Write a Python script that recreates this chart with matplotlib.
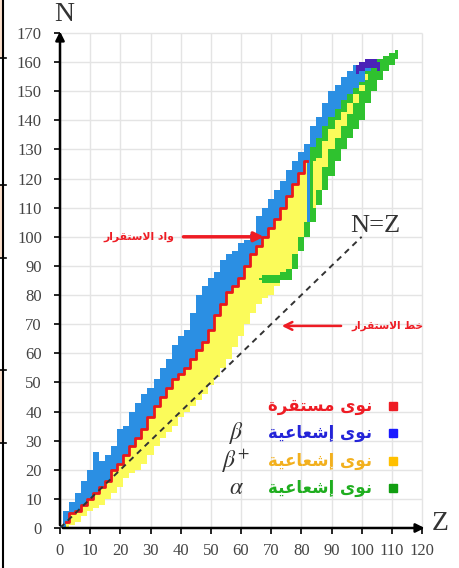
import matplotlib
matplotlib.use('Agg')
import matplotlib.pyplot as plt
from matplotlib.lines import Line2D
from matplotlib.patches import Rectangle

plt.rcParams['font.family'] = ['Liberation Serif', 'DejaVu Serif']
plt.rcParams['mathtext.fontset'] = 'stix'

# ---- данные ----
# полоса ядер: Z, верхняя граница (бета-), нижняя граница (протонная сторона)
Z_band = [0, 2, 4, 6, 8, 10, 12, 14, 16, 18, 20, 22, 24, 26, 28, 30, 32, 34, 36, 38,
          40, 42, 44, 46, 48, 50, 52, 54, 56, 58, 60, 62, 64, 66, 68, 70, 72, 74, 76, 78,
          80, 82, 84, 86, 88, 90, 92, 94, 96, 98, 100, 102, 104, 106, 108, 110]
n_top = [1, 6, 9, 12, 16, 20, 26, 23, 25, 28, 34, 35, 40, 43, 46, 48, 51, 55, 58, 63,
         66, 68, 74, 80, 83, 86, 88, 92, 94, 95, 98, 99, 101, 107, 110, 113, 116, 119, 123, 126,
         129, 132, 138, 141, 146, 150, 152, 155, 157, 159, 160, 161, 161, 161, 162, 163]
n_bottom = [0, 0, 1, 2, 4, 6, 7, 8, 10, 12, 14, 17, 19, 20, 22, 25, 28, 31, 33, 35,
            38, 40, 42, 44, 46, 49, 52, 55, 58, 62, 66, 70, 74, 77, 79, 80, 83, 85, 85, 89,
            95, 100, 105, 111, 116, 121, 126, 130, 134, 137, 140, 146, 150, 154, 157, 159]

# стабильные ядра (красная линия)
Z_stable = [2, 4, 6, 8, 10, 12, 14, 16, 18, 20, 22, 24, 26, 28, 30, 32, 34, 36, 38, 40,
            42, 44, 46, 48, 50, 52, 54, 56, 58, 60, 62, 64, 66, 68, 70, 72, 74, 76, 78, 80, 82]
n_stable = [2, 5, 6, 8, 10, 12, 14, 16, 20, 22, 25, 28, 31, 34, 38, 42, 45, 48, 51, 53,
            55, 58, 61, 64, 68, 73, 77, 81, 83, 86, 90, 94, 97, 100, 103, 106, 110, 114, 118, 122, 126]

# альфа-распад (зелёный)
Z_alpha = [66, 68, 70, 72, 74, 76, 78, 80, 82, 84, 86, 88, 90, 92, 94, 96, 98, 100,
           102, 104, 106, 108, 110, 112]
alpha_lo = [85, 84, 84, 84, 85, 85, 89, 95, 100, 105, 111, 116, 121, 126, 130, 134, 137, 140,
            146, 150, 154, 157, 159, 161]
alpha_hi = [86, 87, 87, 87, 88, 89, 94, 100, 105, 131, 134, 138, 141, 144, 147, 149, 151, 153,
            157, 159, 161, 162, 163, 164]

# полоса бета+ внутри зелёной области
Z_bplus = [84, 86, 88, 90, 92, 94, 96, 98, 100, 102]
bplus_lo = [110, 116, 124, 130, 134, 138, 142, 146, 150, 154]
bplus_hi = [126, 127, 133, 137, 140, 143, 146, 149, 152, 156]

# спонтанное деление (тёмно-синий) сверху
Z_sf = [98, 100, 102, 104, 106]
sf_lo = [156, 157, 158, 158, 157]
sf_hi = [159, 160, 161, 161, 160]

xticks = list(range(0, 121, 10))
yticks = list(range(0, 171, 10))

legend_labels = ['نوى مستقرة', 'نوى إشعاعية', 'نوى إشعاعية', 'نوى إشعاعية']
legend_marks = ['', r'$\beta$', r'$\beta^{+}$', r'$\alpha$']
legend_text_colors = ['#ee1c24', '#2424d8', '#f2b01e', '#1fae1f']
legend_square_colors = ['#ee1c24', '#1a1aff', '#ffc000', '#119e11']


# простое соединение арабских букв (matplotlib не делает shaping сам)
FORMS = {  # iso, fin, ini, med
    'ا': (0xFE8D, 0xFE8E, None, None), 'إ': (0xFE87, 0xFE88, None, None),
    'ت': (0xFE95, 0xFE96, 0xFE97, 0xFE98), 'ة': (0xFE93, 0xFE94, None, None),
    'خ': (0xFEA5, 0xFEA6, 0xFEA7, 0xFEA8), 'د': (0xFEA9, 0xFEAA, None, None),
    'ر': (0xFEAD, 0xFEAE, None, None), 'س': (0xFEB1, 0xFEB2, 0xFEB3, 0xFEB4),
    'ش': (0xFEB5, 0xFEB6, 0xFEB7, 0xFEB8), 'ط': (0xFEC1, 0xFEC2, 0xFEC3, 0xFEC4),
    'ع': (0xFEC9, 0xFECA, 0xFECB, 0xFECC), 'ق': (0xFED5, 0xFED6, 0xFED7, 0xFED8),
    'ل': (0xFEDD, 0xFEDE, 0xFEDF, 0xFEE0), 'م': (0xFEE1, 0xFEE2, 0xFEE3, 0xFEE4),
    'ن': (0xFEE5, 0xFEE6, 0xFEE7, 0xFEE8), 'و': (0xFEED, 0xFEEE, None, None),
    'ى': (0xFEEF, 0xFEF0, None, None), 'ي': (0xFEF1, 0xFEF2, 0xFEF3, 0xFEF4),
}


def shape_ar(text):
    out = []
    chars = list(text)
    i = 0
    while i < len(chars):
        c = chars[i]
        if c not in FORMS:
            out.append(c)
            i += 1
            continue
        prev = chars[i - 1] if i > 0 else None
        join_prev = prev in FORMS and FORMS[prev][2] is not None
        if c == 'ل' and i + 1 < len(chars) and chars[i + 1] in ('ا', 'إ'):
            lig = (0xFEFB, 0xFEFC) if chars[i + 1] == 'ا' else (0xFEF9, 0xFEFA)
            out.append(chr(lig[1] if join_prev else lig[0]))
            i += 2
            continue
        nxt = chars[i + 1] if i + 1 < len(chars) else None
        join_next = FORMS[c][2] is not None and nxt in FORMS
        iso, fin, ini, med = FORMS[c]
        if join_prev and join_next:
            g = med
        elif join_prev:
            g = fin
        elif join_next:
            g = ini
        else:
            g = iso
        out.append(chr(g))
        i += 1
    return ''.join(reversed(out))


AR_FONT = ['DejaVu Sans']

fig = plt.figure(figsize=(4.59, 5.68), dpi=100)
W, H = 459, 568
ax = fig.add_axes([60 / W, 40 / H, 372 / W, 500 / H])
ax.set_xlim(0, 372 / 3.0167)
ax.set_ylim(0, 500 / 2.912)
for s in ax.spines.values():
    s.set_visible(False)

# сетка
ax.vlines(xticks, 0, 170, color='#e4e4e4', lw=1, zorder=0)
ax.hlines(yticks, 0, 120, color='#e4e4e4', lw=1, zorder=0)

# области
ax.fill_between(Z_band, n_bottom, n_top, step='mid', color='#2b8fe3', lw=0, zorder=2)
ax.fill_between(Z_stable, n_bottom[1:42], n_stable, step='mid', color='#fbfb5a', lw=0, zorder=3)
ax.fill_between(Z_alpha, alpha_lo, alpha_hi, step='mid', color='#2fc22f', lw=0, zorder=4)
ax.fill_between(Z_bplus, bplus_lo, bplus_hi, step='mid', color='#fbfb5a', lw=0, zorder=5)
ax.fill_between(Z_sf, sf_lo, sf_hi, step='mid', color='#4a22b8', lw=0, zorder=5)
ax.plot(Z_stable, n_stable, drawstyle='steps-mid', color='#e8181c', lw=2, zorder=6)

# линия N=Z
ax.plot([0, 100], [0, 100], color='#333333', lw=1.4, ls=(0, (3, 2.5)), zorder=7)
ax.text(104.4, 103.7, 'N=Z', fontsize=19, color='#333333', ha='center', va='center')

# оси со стрелками
ax.annotate('', xy=(121.8, 0), xytext=(0, 0),
            arrowprops=dict(arrowstyle='-|>', color='k', lw=1.8, mutation_scale=13),
            annotation_clip=False, zorder=8)
ax.annotate('', xy=(0, 171.5), xytext=(0, 0),
            arrowprops=dict(arrowstyle='-|>', color='k', lw=1.8, mutation_scale=13),
            annotation_clip=False, zorder=8)
ax.set_xticks(xticks)
ax.set_yticks(yticks)
ax.tick_params(direction='out', length=4, width=1.2, colors='k', labelcolor='#444444',
               labelsize=12)
ax.tick_params(axis='y', pad=9)
ax.tick_params(axis='x', pad=7)
ax.text(1.3, 176.5, 'N', fontsize=20, color='#333333', ha='center', va='center', clip_on=False)
ax.text(126, 1.7, 'Z', fontsize=20, color='#333333', ha='center', va='center', clip_on=False)

# подписи со стрелками
ax.annotate('', xy=(68.5, 100), xytext=(40, 100),
            arrowprops=dict(arrowstyle='-|>', color='#ee1c24', lw=2.5, mutation_scale=14))
ax.text(38, 100, shape_ar('واد الاستقرار'), family=AR_FONT, fontsize=7.8, weight='bold',
        color='#ee1c24', ha='right', va='center')
ax.annotate('', xy=(72.6, 69.4), xytext=(94.1, 69.4),
            arrowprops=dict(arrowstyle='->', color='#ee1c24', lw=1.8, mutation_scale=14))
ax.text(96.5, 69.5, shape_ar('خط الاستقرار'), family=AR_FONT, fontsize=7.6, weight='bold',
        color='#ee1c24', ha='left', va='center')

# легенда
rows_n = [41.9, 32.6, 22.9, 13.7]
for n, lab, mk, tc, sc in zip(rows_n, legend_labels, legend_marks,
                              legend_text_colors, legend_square_colors):
    ax.plot([110.4], [n], 's', color=sc, ms=5.5, zorder=9)
    ax.text(103.5, n, shape_ar(lab), family=AR_FONT, fontsize=12, weight='bold',
            color=tc, ha='right', va='center')
    if mk:
        ax.text(58.5, n, mk, fontsize=17, color='#333333', ha='center', va='center')

# фрагмент рамки таблицы слева
fig.add_artist(Line2D([3 / W, 3 / W], [0, 1], color='k', lw=1.5))
for y0, y1 in [(0, 58), (185, 258), (370, 443)]:
    fig.add_artist(Rectangle((0, 1 - y1 / H), 2.5 / W, (y1 - y0) / H, color='#fbe0cc', lw=0))
for y in [58, 185, 258, 370, 443]:
    fig.add_artist(Line2D([0, 6 / W], [1 - y / H, 1 - y / H], color='k', lw=1.2))

fig.savefig('out.png', dpi=100)
